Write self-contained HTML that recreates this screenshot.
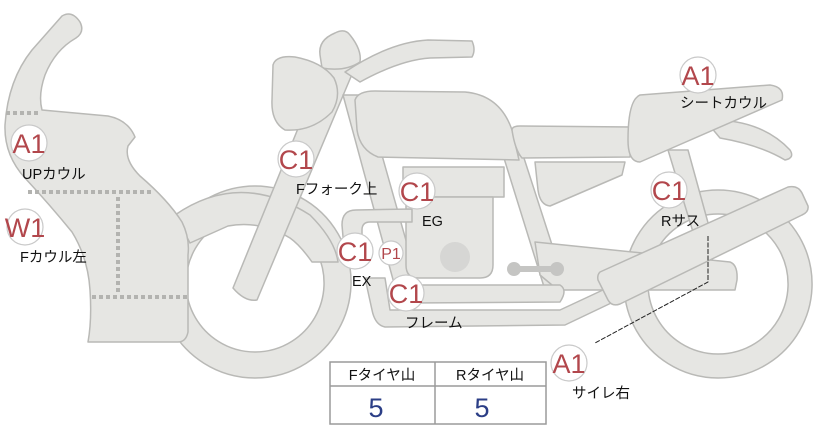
<!DOCTYPE html>
<html><head><meta charset="utf-8"><style>
html,body{margin:0;padding:0;background:#fff;width:822px;height:425px;overflow:hidden}
svg{display:block}
.s{fill:#e6e6e3;stroke:#b9b9b6;stroke-width:1.5;stroke-linejoin:round}
.d{stroke:#b3b3b0;stroke-width:4;stroke-dasharray:4 3;fill:none}
.bd{fill:#fff;stroke:#c9c9c9;stroke-width:1.2}
.bt{fill:#b2474c;font-family:"Liberation Sans",sans-serif;font-size:27px;text-anchor:middle}
.lb{fill:#111;font-family:"Liberation Sans","Noto Sans CJK JP",sans-serif;font-size:14.5px}
</style></head><body>
<svg width="822" height="425" viewBox="0 0 822 425">
<path class="s" fill-rule="evenodd" d="M255,186a96,96 0 1,0 0.1,0Z M255,214a69,69 0 1,0 0.1,0Z"/>
<path class="s" fill-rule="evenodd" d="M718,190a94,94 0 1,0 0.1,0Z M718,214a70,70 0 1,0 0.1,0Z"/>
<path class="s" d="M175,215 Q240,170 310,215 Q335,240 338,262 L312,262 Q300,245 290,238 Q260,220 228,226 L190,243Z"/>
<path class="s" d="M233,288 L330,50 L358,60 L257,300 Q245,302 233,288Z"/>
<path class="s" d="M343,95 L365,95 L420,290 L398,298Z"/>
<path class="s" d="M503,155 L523,155 L565,285 L545,290Z"/>
<path class="s" d="M668,150 L688,150 L710,230 L693,232Z"/>
<path class="s" d="M345,72 L360,82 Q400,60 430,58 L472,57 Q476,50 472,41 L428,40 Q390,42 345,72Z"/>
<path class="s" d="M320,55 Q318,40 335,33 Q345,28 350,35 Q362,50 360,62 Q345,72 322,68Z"/>
<path class="s" d="M273,65 Q276,55 295,57 Q322,62 334,78 Q342,95 332,112 Q312,132 285,130 Q271,122 272,100Z"/>
<path class="s" d="M355,100 Q358,91 375,91 L465,92 Q500,95 512,130 L519,160 L378,157 Q360,150 357,130Z"/>
<path class="s" d="M512,130 Q512,126 520,126 L632,127 L630,157 L522,158 Q515,150 512,130Z"/>
<path class="s" d="M705,120 Q760,118 790,150 Q795,158 785,160 Q760,145 720,138Z"/>
<path class="s" d="M640,95 L770,85 Q785,87 782,100 L640,162 Q628,162 628,140 Q628,100 640,95Z"/>
<path class="s" d="M535,162 L625,162 L622,175 L550,206 Q540,205 538,190Z"/>
<path class="s" d="M535,242 L730,262 Q738,265 737,280 L735,290 L558,290 L540,275Z"/>
<rect class="s" x="403" y="167" width="101" height="30"/>
<path class="s" d="M406,197 L493,197 L493,265 Q493,278 480,278 L418,278 Q406,278 406,265Z"/>
<circle cx="455" cy="257" r="15" fill="#d6d6d4"/>
<rect x="512" y="266" width="50" height="6" fill="#c5c5c3"/>
<circle cx="514" cy="269" r="7" fill="#c5c5c3"/><circle cx="557" cy="269" r="7" fill="#c5c5c3"/>
<path class="s" d="M342,225 Q342,210 356,210 L412,209 L412,222 L370,222 Q362,222 362,230 L362,262 L345,260Z"/>
<path class="s" d="M395,285 L560,285 Q568,290 560,302 L410,303Z"/>
<path class="s" d="M365,278 L385,278 L390,310 L560,310 L620,282 L628,295 L565,325 L385,327 Q375,325 372,310Z"/>
<path class="s" d="M600,272 L788,187 Q798,185 802,193 L808,206 Q809,212 802,215 L620,304 Q612,307 608,300 L598,280 Q597,275 600,272Z"/>
<path class="s" d="M62,16 Q72,10 80,22 Q85,32 76,38 Q55,50 45,75 Q38,95 42,110 L108,116 Q128,120 135,137 L128,146 Q124,160 140,176 Q168,200 182,222 Q190,238 188,255 L188,332 Q186,342 178,342 L88,342 Q92,320 90,290 Q88,258 72,232 Q50,205 25,178 Q4,155 5,125 Q8,80 32,50Z"/>
<path class="d" d="M6,113 H40 M28,192 H152 M118,197 V293 M92,297 H188"/>
<path d="M708,236 V282 L595,343" fill="none" stroke="#222" stroke-width="1" stroke-dasharray="5 1.5"/>
<g>
<circle class="bd" cx="29" cy="143" r="18"/><text class="bt" x="29" y="153">A1</text>
<circle class="bd" cx="25" cy="227" r="18"/><text class="bt" x="25" y="237">W1</text>
<circle class="bd" cx="296" cy="159" r="18"/><text class="bt" x="296" y="169">C1</text>
<circle class="bd" cx="417" cy="191" r="18"/><text class="bt" x="417" y="201">C1</text>
<circle class="bd" cx="355" cy="251" r="18"/><text class="bt" x="355" y="261">C1</text>
<circle class="bd" cx="391" cy="253" r="12"/><text class="bt" x="391" y="259" style="font-size:16px">P1</text>
<circle class="bd" cx="406" cy="293" r="18"/><text class="bt" x="406" y="303">C1</text>
<circle class="bd" cx="698" cy="75" r="18"/><text class="bt" x="698" y="85">A1</text>
<circle class="bd" cx="669" cy="190" r="18"/><text class="bt" x="669" y="200">C1</text>
<circle class="bd" cx="569" cy="363" r="18"/><text class="bt" x="569" y="373">A1</text>
</g>
<text class="lb" x="22" y="179">UPカウル</text>
<text class="lb" x="20" y="262">Fカウル左</text>
<text class="lb" x="296" y="194">Fフォーク上</text>
<text class="lb" x="422" y="226">EG</text>
<text class="lb" x="352" y="286">EX</text>
<text class="lb" x="405" y="328">フレーム</text>
<text class="lb" x="680" y="108">シートカウル</text>
<text class="lb" x="661" y="226">Rサス</text>
<text class="lb" x="572" y="398">サイレ右</text>
<rect x="330" y="362" width="216" height="62" fill="#fff" stroke="#9a9a9a" stroke-width="1.5"/>
<line x1="330" y1="386" x2="546" y2="386" stroke="#9a9a9a" stroke-width="1.5"/>
<line x1="435" y1="362" x2="435" y2="424" stroke="#9a9a9a" stroke-width="1.5"/>
<text class="lb" x="382" y="380" text-anchor="middle">Fタイヤ山</text>
<text class="lb" x="490" y="380" text-anchor="middle">Rタイヤ山</text>
<text x="376" y="417" fill="#2b3e86" font-family="Liberation Sans,sans-serif" font-size="27" text-anchor="middle">5</text>
<text x="482" y="417" fill="#2b3e86" font-family="Liberation Sans,sans-serif" font-size="27" text-anchor="middle">5</text>
</svg>
</body></html>
